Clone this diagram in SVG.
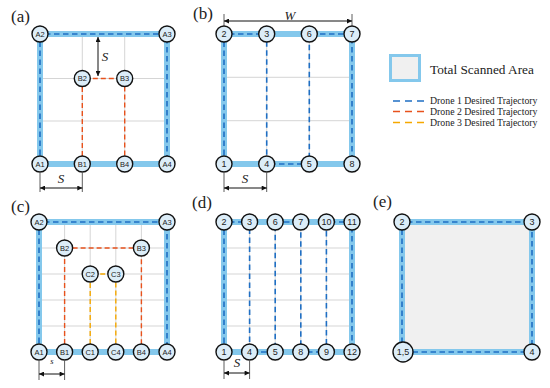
<svg xmlns="http://www.w3.org/2000/svg" width="550" height="388" viewBox="0 0 550 388">
<defs>
<marker id="ah" viewBox="0 0 10 10" refX="10" refY="5" markerWidth="6" markerHeight="5" markerUnits="userSpaceOnUse" orient="auto-start-reverse"><path d="M0,0 L10,5 L0,10 z" fill="#111"/></marker>
</defs>
<style>
.grid{stroke:#cacaca;stroke-width:0.8;fill:none}
.band{stroke:#84c8ec;stroke-width:6;fill:none}
.d1{stroke:#1f6fc4;stroke-width:1.6;stroke-dasharray:5.5 3.5;fill:none}
.d2{stroke:#e8521c;stroke-width:1.4;stroke-dasharray:5 3;fill:none}
.d3{stroke:#f5a800;stroke-width:1.4;stroke-dasharray:5 3;fill:none}
.node circle{fill:#dcedf8;stroke:#111;stroke-width:1.4}
.node text{font-family:"Liberation Sans",Arial,sans-serif;font-size:7.5px;fill:#222;text-anchor:middle;dominant-baseline:central}
.num text{font-size:9px}
.lbl{font-family:"Liberation Serif",serif;font-size:17px;fill:#222}
.sym{font-family:"Liberation Serif",serif;font-style:italic;font-size:13px;fill:#222;text-anchor:middle}
.tick{stroke:#333;stroke-width:0.8}
.arr{stroke:#111;stroke-width:1;marker-start:url(#ah);marker-end:url(#ah)}
.leg{font-family:"Liberation Serif",serif;fill:#222}
</style>

<!-- panel labels -->
<text class="lbl" x="11" y="22">(a)</text>
<text class="lbl" x="193" y="19">(b)</text>
<text class="lbl" x="11" y="212">(c)</text>
<text class="lbl" x="192" y="208">(d)</text>
<text class="lbl" x="373" y="207">(e)</text>

<!-- grids, bands, fills -->
<g id="backgrounds">
<path class="grid" d="M82.3,34V164M124.7,34V164M40,78.5H167M40,121H167"/>
<path class="grid" d="M266.7,34V164M309.3,34V164M224,77.3H352M224,120.7H352"/>
<path class="grid" d="M64.6,222V352M90.2,222V352M115.8,222V352M141.4,222V352M39,248H167M39,274H167M39,300H167M39,326H167"/>
<path class="grid" d="M249.6,222V352M275.2,222V352M300.8,222V352M326.4,222V352M224,248H352M224,274H352M224,300H352M224,326H352"/>
<rect x="402" y="222" width="130" height="130" fill="#f0f0f0"/>
<rect class="band" x="40" y="34" width="127" height="130"/>
<rect class="band" x="224" y="34" width="128" height="130"/>
<rect class="band" x="39" y="222" width="128" height="130"/>
<rect class="band" x="224" y="222" width="128" height="130"/>
<rect class="band" x="402" y="222" width="130" height="130"/>
</g>

<!-- connectors -->
<g id="connectors">
<path class="d1" d="M40,164V34H167V164"/>
<path class="d2" d="M82.3,164V78.5H124.7V164"/>
<path class="d1" d="M224,164V34H266.7V164H309.3V34H352V164"/>
<path class="d1" d="M39,352V222H167V352"/>
<path class="d2" d="M64.6,352V248H141.4V352"/>
<path class="d3" d="M90.2,352V274H115.8V352"/>
<path class="d1" d="M224,352V222H249.6V352H275.2V222H300.8V352H326.4V222H352V352"/>
<path class="d1" d="M402,352V222H532V352Z"/>
</g>

<!-- panel a nodes -->
<g id="a-A1" class="node"><circle cx="40" cy="164" r="8"/><text x="40" y="164">A1</text></g>
<g id="a-A2" class="node"><circle cx="40" cy="34" r="8"/><text x="40" y="34">A2</text></g>
<g id="a-A3" class="node"><circle cx="167" cy="34" r="8"/><text x="167" y="34">A3</text></g>
<g id="a-A4" class="node"><circle cx="167" cy="164" r="8"/><text x="167" y="164">A4</text></g>
<g id="a-B1" class="node"><circle cx="82.3" cy="164" r="8"/><text x="82.3" y="164">B1</text></g>
<g id="a-B2" class="node"><circle cx="82.3" cy="78.5" r="8"/><text x="82.3" y="78.5">B2</text></g>
<g id="a-B3" class="node"><circle cx="124.7" cy="78.5" r="8"/><text x="124.7" y="78.5">B3</text></g>
<g id="a-B4" class="node"><circle cx="124.7" cy="164" r="8"/><text x="124.7" y="164">B4</text></g>

<!-- panel b nodes -->
<g id="b-1" class="node num"><circle cx="224" cy="164" r="8"/><text x="224" y="164">1</text></g>
<g id="b-2" class="node num"><circle cx="224" cy="34" r="8"/><text x="224" y="34">2</text></g>
<g id="b-3" class="node num"><circle cx="266.7" cy="34" r="8"/><text x="266.7" y="34">3</text></g>
<g id="b-4" class="node num"><circle cx="266.7" cy="164" r="8"/><text x="266.7" y="164">4</text></g>
<g id="b-5" class="node num"><circle cx="309.3" cy="164" r="8"/><text x="309.3" y="164">5</text></g>
<g id="b-6" class="node num"><circle cx="309.3" cy="34" r="8"/><text x="309.3" y="34">6</text></g>
<g id="b-7" class="node num"><circle cx="352" cy="34" r="8"/><text x="352" y="34">7</text></g>
<g id="b-8" class="node num"><circle cx="352" cy="164" r="8"/><text x="352" y="164">8</text></g>

<!-- panel c nodes -->
<g id="c-A1" class="node"><circle cx="39" cy="352" r="8"/><text x="39" y="352">A1</text></g>
<g id="c-A2" class="node"><circle cx="39" cy="222" r="8"/><text x="39" y="222">A2</text></g>
<g id="c-A3" class="node"><circle cx="167" cy="222" r="8"/><text x="167" y="222">A3</text></g>
<g id="c-A4" class="node"><circle cx="167" cy="352" r="8"/><text x="167" y="352">A4</text></g>
<g id="c-B1" class="node"><circle cx="64.6" cy="352" r="8"/><text x="64.6" y="352">B1</text></g>
<g id="c-B2" class="node"><circle cx="64.6" cy="248" r="8"/><text x="64.6" y="248">B2</text></g>
<g id="c-B3" class="node"><circle cx="141.4" cy="248" r="8"/><text x="141.4" y="248">B3</text></g>
<g id="c-B4" class="node"><circle cx="141.4" cy="352" r="8"/><text x="141.4" y="352">B4</text></g>
<g id="c-C1" class="node"><circle cx="90.2" cy="352" r="8"/><text x="90.2" y="352">C1</text></g>
<g id="c-C2" class="node"><circle cx="90.2" cy="274" r="8"/><text x="90.2" y="274">C2</text></g>
<g id="c-C3" class="node"><circle cx="115.8" cy="274" r="8"/><text x="115.8" y="274">C3</text></g>
<g id="c-C4" class="node"><circle cx="115.8" cy="352" r="8"/><text x="115.8" y="352">C4</text></g>

<!-- panel d nodes -->
<g id="d-1" class="node num"><circle cx="224" cy="352" r="8"/><text x="224" y="352">1</text></g>
<g id="d-2" class="node num"><circle cx="224" cy="222" r="8"/><text x="224" y="222">2</text></g>
<g id="d-3" class="node num"><circle cx="249.6" cy="222" r="8"/><text x="249.6" y="222">3</text></g>
<g id="d-4" class="node num"><circle cx="249.6" cy="352" r="8"/><text x="249.6" y="352">4</text></g>
<g id="d-5" class="node num"><circle cx="275.2" cy="352" r="8"/><text x="275.2" y="352">5</text></g>
<g id="d-6" class="node num"><circle cx="275.2" cy="222" r="8"/><text x="275.2" y="222">6</text></g>
<g id="d-7" class="node num"><circle cx="300.8" cy="222" r="8"/><text x="300.8" y="222">7</text></g>
<g id="d-8" class="node num"><circle cx="300.8" cy="352" r="8"/><text x="300.8" y="352">8</text></g>
<g id="d-9" class="node num"><circle cx="326.4" cy="352" r="8"/><text x="326.4" y="352">9</text></g>
<g id="d-10" class="node num"><circle cx="326.4" cy="222" r="8"/><text x="326.4" y="222">10</text></g>
<g id="d-11" class="node num"><circle cx="352" cy="222" r="8"/><text x="352" y="222">11</text></g>
<g id="d-12" class="node num"><circle cx="352" cy="352" r="8"/><text x="352" y="352">12</text></g>

<!-- panel e nodes -->
<g id="e-15" class="node num"><circle cx="403" cy="352" r="10"/><text x="403" y="352">1,5</text></g>
<g id="e-2" class="node num"><circle cx="402" cy="222" r="8"/><text x="402" y="222">2</text></g>
<g id="e-3" class="node num"><circle cx="532" cy="222" r="8"/><text x="532" y="222">3</text></g>
<g id="e-4" class="node num"><circle cx="532" cy="352" r="8"/><text x="532" y="352">4</text></g>

<!-- dimension arrows -->
<g id="dimensions">
<line class="arr" x1="98" y1="37" x2="98" y2="76"/>
<text class="sym" x="105" y="61">S</text>
<path class="tick" d="M40,173V192M82.3,173V192"/>
<line class="arr" x1="40" y1="188" x2="82.3" y2="188"/>
<text class="sym" x="61" y="183">S</text>
<path class="tick" d="M224,14V26M352,14V26"/>
<line class="arr" x1="224" y1="21" x2="352" y2="21"/>
<text class="sym" x="290" y="19.5">W</text>
<path class="tick" d="M224,173V192M266.7,173V192"/>
<line class="arr" x1="224" y1="188" x2="266.7" y2="188"/>
<text class="sym" x="245" y="183">S</text>
<path class="tick" d="M39,361V380M64.6,361V380"/>
<line class="arr" x1="39" y1="374" x2="64.6" y2="374"/>
<text class="sym" x="52" y="364" style="font-size:8.5px">s</text>
<path class="tick" d="M224,361V379M249.6,361V379"/>
<line class="arr" x1="224" y1="373" x2="249.6" y2="373"/>
<text class="sym" x="237" y="367">S</text>
</g>

<!-- legend -->
<g id="legend">
<rect x="390.5" y="55.5" width="29" height="25" fill="#f0f0f0" stroke="#84c8ec" stroke-width="3"/>
<text class="leg" x="430" y="74" style="font-size:13.3px">Total Scanned Area</text>
<line x1="393" y1="101" x2="426" y2="101" stroke="#1f6fc4" stroke-width="1.6" stroke-dasharray="7 5"/>
<line x1="393" y1="111.5" x2="426" y2="111.5" stroke="#e8521c" stroke-width="1.6" stroke-dasharray="7 5"/>
<line x1="393" y1="122.5" x2="426" y2="122.5" stroke="#f5a800" stroke-width="1.6" stroke-dasharray="7 5"/>
<text class="leg" x="430" y="104" style="font-size:9.8px">Drone 1 Desired Trajectory</text>
<text class="leg" x="430" y="114.5" style="font-size:9.8px">Drone 2 Desired Trajectory</text>
<text class="leg" x="430" y="125.5" style="font-size:9.8px">Drone 3 Desired Trajectory</text>
</g>
</svg>
